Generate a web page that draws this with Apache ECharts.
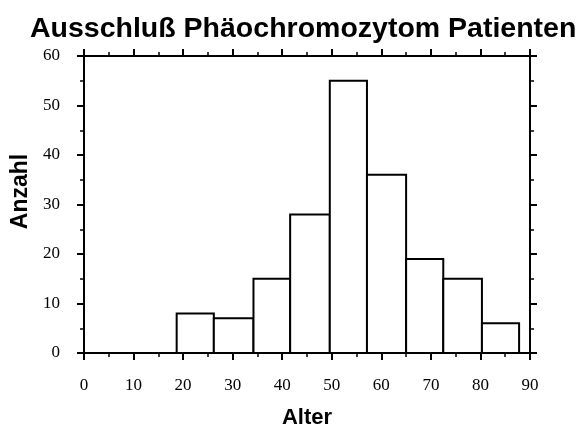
<!DOCTYPE html>
<html>
<head>
<meta charset="utf-8">
<script src="https://cdn.jsdelivr.net/npm/echarts@6/dist/echarts.min.js"></script>
<style>
  html, body { margin: 0; padding: 0; background: #fff; }
  #chart { width: 584px; height: 426px; }
</style>
</head>
<body>
<div id="chart"></div>
<script>
// Histogramm: Klassengrenzen (Alter) und Anzahl
const binStart = [18.7, 26.2, 34.2, 41.6, 49.6, 57.1, 65.0, 72.5, 80.3]
const binEnd = [26.2, 34.2, 41.6, 49.6, 57.1, 65.0, 72.5, 80.3, 87.8]
const counts = [8, 7, 15, 28, 55, 36, 19, 15, 6]

const xTicks = [0, 10, 20, 30, 40, 50, 60, 70, 80, 90]
const yTicks = [0, 10, 20, 30, 40, 50, 60]

const serif = '"Liberation Serif", "Times New Roman", serif'
const sans = '"Liberation Sans", Arial, sans-serif'

const chart = echarts.init(document.getElementById('chart'))

const axisBase = {
  type: 'value',
  axisLine: { show: true, onZero: false, lineStyle: { color: '#000', width: 2 } },
  axisTick: { show: true, length: 7, lineStyle: { color: '#000', width: 2 } },
  minorTick: { show: true, splitNumber: 2, length: 4, lineStyle: { color: '#000', width: 1.5 } },
  splitLine: { show: false },
  axisLabel: { show: false }
}

chart.setOption({
  animation: false,
  title: {
    text: 'Ausschluß Phäochromozytom Patienten',
    left: 25,
    top: 10,
    textStyle: { fontFamily: sans, fontSize: 28.5, fontWeight: 'bold', color: '#000' }
  },
  grid: { left: 84, right: 54, top: 56, bottom: 73, containLabel: false, outerBoundsMode: 'none' },
  xAxis: [
    Object.assign({}, axisBase, {
      position: 'bottom',
      min: xTicks[0],
      max: xTicks[xTicks.length - 1],
      interval: 10,
      name: 'Alter',
      nameLocation: 'middle',
      nameGap: 54,
      nameTextStyle: { fontFamily: sans, fontSize: 22, fontWeight: 'bold', color: '#000' },
      axisLabel: { show: true, margin: 24, fontFamily: serif, fontSize: 17, color: '#000' }
    }),
    Object.assign({}, axisBase, {
      position: 'top',
      min: xTicks[0],
      max: xTicks[xTicks.length - 1],
      interval: 10
    })
  ],
  yAxis: [
    Object.assign({}, axisBase, {
      position: 'left',
      min: yTicks[0],
      max: yTicks[yTicks.length - 1],
      interval: 10,
      name: 'Anzahl',
      nameLocation: 'middle',
      nameGap: 52,
      nameRotate: 90,
      nameTextStyle: { fontFamily: sans, fontSize: 23, fontWeight: 'bold', color: '#000', padding: [0, 0, 0, 26] },
      axisLabel: { show: true, margin: 24, fontFamily: serif, fontSize: 17, color: '#000' }
    }),
    Object.assign({}, axisBase, {
      position: 'right',
      min: yTicks[0],
      max: yTicks[yTicks.length - 1],
      interval: 10
    })
  ],
  series: [{
    type: 'custom',
    xAxisIndex: 0,
    yAxisIndex: 0,
    data: counts.map((c, i) => [binStart[i], binEnd[i], c]),
    renderItem(params, api) {
      const p0 = api.coord([api.value(0), api.value(2)])
      const p1 = api.coord([api.value(1), 0])
      return {
        type: 'rect',
        shape: { x: p0[0], y: p0[1], width: p1[0] - p0[0], height: p1[1] - p0[1] },
        style: { fill: '#fff', stroke: '#000', lineWidth: 2 }
      }
    }
  }]
})
</script>
</body>
</html>
